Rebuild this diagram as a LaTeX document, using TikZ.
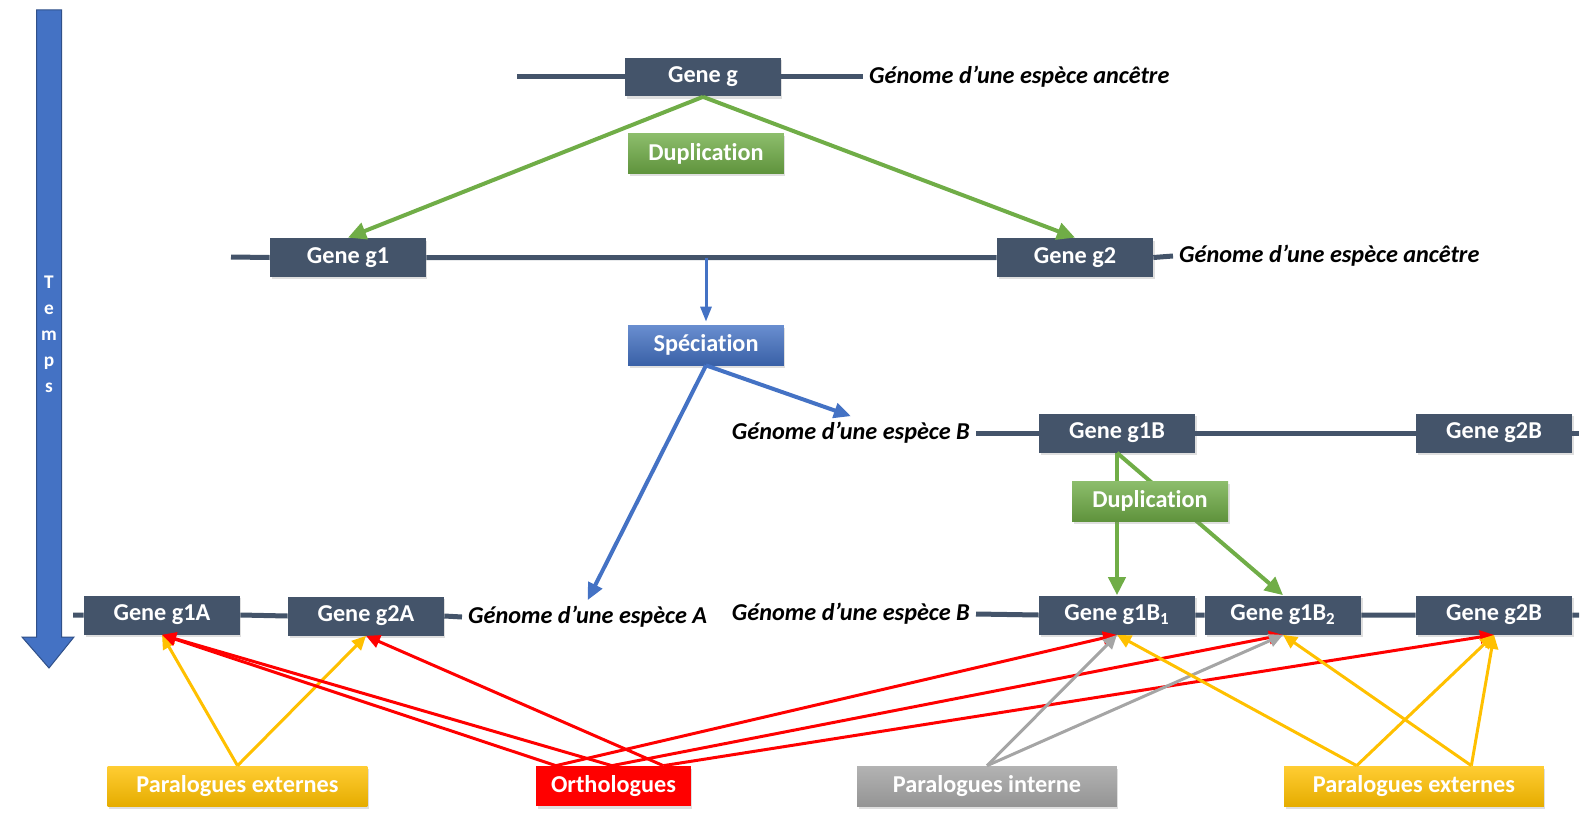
\documentclass[tikz,border=0pt]{standalone}
\usepackage{fontspec}
\setmainfont{Carlito}[Ligatures=CommonOff]
\usetikzlibrary{arrows.meta,positioning,calc,shadows}
\definecolor{gnslate}{HTML}{44546A}
\definecolor{gngreen}{HTML}{70AD47}
\definecolor{gnblue}{HTML}{4472C4}
\definecolor{gnyellow}{HTML}{FFC000}
\definecolor{gngrey}{HTML}{A5A5A5}
\definecolor{gnred}{HTML}{FF0000}

\begin{document}
\begin{tikzpicture}[x=0.02cm,y=-0.02cm,node distance=5mm]
        \tikzset{gene/.style={fill=gnslate,text=white,inner sep=0pt,minimum width=3.12cm,minimum height=0.78cm,font=\fontsize{13.8}{16}\selectfont\bfseries,drop shadow={shadow xshift=0.03cm,shadow yshift=-0.05cm,opacity=0.25}},
          event/.style={gene,minimum height=0.8cm},
          kind/.style={gene,minimum width=5.2cm,minimum height=0.8cm},
          genome/.style={font=\fontsize{13.8}{16}\selectfont\bfseries\itshape},
          chrom/.style={draw=gnslate,line width=0.1cm},
          dupl/.style={draw=gngreen,line width=0.08cm,-{Triangle[length=0.36cm,width=0.34cm]}},
          spec/.style={draw=gnblue,line width=0.08cm,-{Triangle[length=0.34cm,width=0.3cm]}},
          link/.style={line width=0.06cm,-{Triangle[length=0.28cm,width=0.26cm]}}}
        \useasboundingbox (0,0) rectangle (1591,821);
        % time axis
        \draw[draw=gnblue!70!black,fill=gnblue,line width=0.02cm] (36.5,10) -- (61.5,10) -- (61.5,637) -- (74,637) -- (49,668) -- (22,637) -- (36.5,637) -- cycle;
        \node[text=white,align=center,font=\fontsize{11}{14.8}\selectfont\bfseries] (temps) at (49,334) {T\\e\\m\\p\\s};
        % ancestral genome
        \node[gene] (gg) at (703,77) {Gene g};
        \node[genome,anchor=west] (anc1) at (863,77) {Génome d’une espèce ancêtre};
        \coordinate (l0) at (517,77);
        \draw[chrom] (l0) -- (gg.west) (gg.east) -- (anc1.west);
        \node[event,top color=gngreen!80!white,bottom color=gngreen!85!black] (dup1) at (706,153.5) {Duplication};
        % after duplication
        \node[gene] (g1) at (348,257.5) {Gene g1};
        \node[gene] (g2) at (1075,257.5) {Gene g2};
        \node[genome,anchor=west] (anc2) at (1173,256) {Génome d’une espèce ancêtre};
        \coordinate (l1) at (231,257);
        \draw[chrom] (l1) -- (g1.west) (g1.east) -- (g2.west) (g2.east) -- (anc2.west);
        \draw[dupl] (gg.south) -- (g1.north);
        \draw[dupl] (gg.south) -- (g2.north);
        \node[event,top color=gnblue!80!white,bottom color=gnblue!85!black] (spc) at (706,345) {Spéciation};
        \draw[spec,line width=0.06cm,-{Triangle[length=0.3cm,width=0.22cm]},shorten >=0.06cm] (spc |- g1) -- (spc.north);
        % species B, before duplication
        \node[gene] (g1B) at (1117,433) {Gene g1B};
        \node[gene] (g2B0) at (1494,433) {Gene g2B};
        \node[genome,anchor=east] (spB1) at (976,433) {Génome d’une espèce B};
        \coordinate (r1) at (1579,433);
        \draw[chrom] (spB1.east) -- (g1B.west) (g1B.east) -- (g2B0.west) (g2B0.east) -- (r1);
        % species B, after duplication
        \node[gene] (g1B1) at (1117,615) {Gene g1B\textsubscript{1}};
        \node[gene] (g1B2) at (1283,615) {Gene g1B\textsubscript{2}};
        \node[gene] (g2B) at (1494,615) {Gene g2B};
        \node[genome,anchor=east] (spB2) at (976,614) {Génome d’une espèce B};
        \coordinate (r2) at (1579,615);
        \draw[chrom] (spB2.east) -- (g1B1.west) (g1B1.east) -- (g1B2.west) (g1B2.east) -- (g2B.west) (g2B.east) -- (r2);
        \draw[dupl] (g1B.south) -- (g1B1.north);
        \draw[dupl] (g1B.south) -- (g1B2.north);
        \node[event,top color=gngreen!80!white,bottom color=gngreen!85!black] (dup2) at (1150,501) {Duplication};
        % species A
        \node[gene] (g1A) at (162,615) {Gene g1A};
        \node[gene] (g2A) at (366,616) {Gene g2A};
        \node[genome,anchor=west] (spA) at (462,617) {Génome d’une espèce A};
        \coordinate (l2) at (73,615);
        \draw[chrom] (l2) -- (g1A.west) (g1A.east) -- (g2A.west) (g2A.east) -- (spA.west);
        \draw[spec] (spc.south) -- (spB1.north);
        \draw[spec] (spc.south) -- (spA.north);
        % relations
        \node[kind,top color=gnyellow!80!white,bottom color=gnyellow!90!black] (pe1) at (237.5,786) {Paralogues externes};
        \node[kind,fill=gnred,minimum width=3.1cm] (orth) at (613.5,786) {Orthologues};
        \node[kind,top color=gngrey!85!white,bottom color=gngrey!90!black] (pint) at (987,786) {Paralogues interne};
        \node[kind,top color=gnyellow!80!white,bottom color=gnyellow!90!black] (pe2) at (1414,786) {Paralogues externes};
        \coordinate (o1) at ($(orth.north west)!0.13!(orth.north east)$);
        \coordinate (o2) at ($(orth.north west)!0.49!(orth.north east)$);
        \coordinate (o3) at ($(orth.north west)!0.82!(orth.north east)$);
        \coordinate (e1) at ($(pe2.north west)!0.28!(pe2.north east)$);
        \coordinate (e2) at ($(pe2.north west)!0.72!(pe2.north east)$);
        \draw[link,gnyellow] (pe1.north) -- (g1A.south);
        \draw[link,gnyellow] (pe1.north) -- (g2A.south);
        \draw[link,gnred] (o1) -- (g1A.south);
        \draw[link,gnred] (o2) -- (g1A.south);
        \draw[link,gnred] (o3) -- (g2A.south);
        \draw[link,gnred] (o1) -- (g1B1.south);
        \draw[link,gnred] (o2) -- (g1B2.south);
        \draw[link,gnred] (o3) -- (g2B.south);
        \draw[link,gngrey] (pint.north) -- (g1B1.south);
        \draw[link,gngrey] (pint.north) -- (g1B2.south);
        \draw[link,gnyellow] (e1) -- (g1B1.south);
        \draw[link,gnyellow] (e1) -- (g2B.south);
        \draw[link,gnyellow] (e2) -- (g1B2.south);
        \draw[link,gnyellow] (e2) -- (g2B.south);
      \end{tikzpicture}
\end{document}
